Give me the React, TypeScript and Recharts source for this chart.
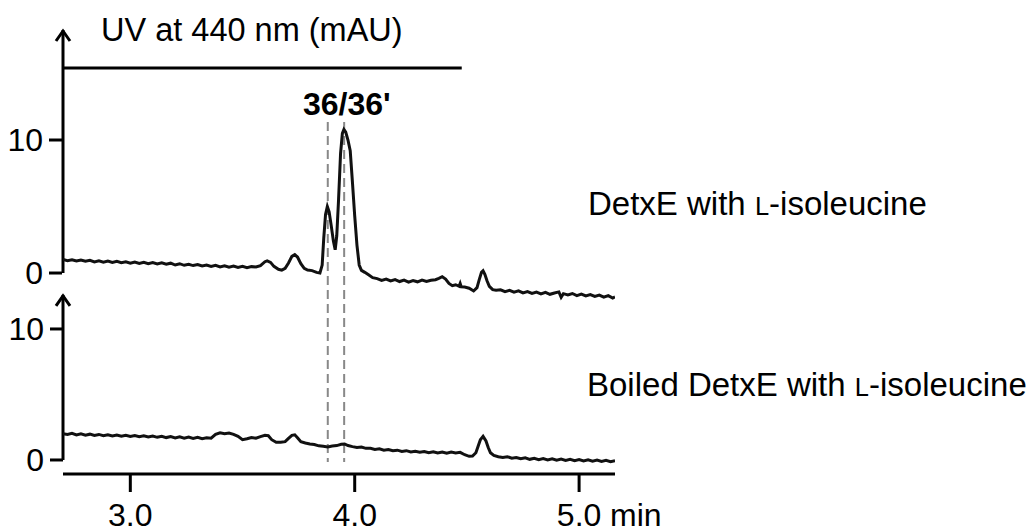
import React from "react"
import { Line, LineChart, ReferenceLine, XAxis, YAxis } from "recharts"

// retention time (min) and absorbance (mAU)
const detxeTimes = [
    2.70, 2.72, 2.74, 2.76, 2.78, 2.80, 2.82, 2.84, 2.86, 2.88, 2.90, 2.92, 2.94, 2.96, 2.98,
    3.00, 3.02, 3.04, 3.06, 3.08, 3.10, 3.12, 3.14, 3.16, 3.18, 3.20, 3.22, 3.24, 3.26, 3.28,
    3.30, 3.32, 3.34, 3.36, 3.38, 3.40, 3.42, 3.44, 3.46, 3.48, 3.50, 3.52, 3.54, 3.56, 3.58,
    3.60, 3.61, 3.625, 3.64, 3.66, 3.675, 3.69, 3.705, 3.72, 3.733, 3.745, 3.76, 3.775, 3.79, 3.81,
    3.83, 3.845, 3.855, 3.862, 3.87, 3.878, 3.886, 3.895, 3.905, 3.913, 3.92, 3.928, 3.937, 3.945, 3.952,
    3.96, 3.97, 3.98, 3.99, 4.0, 4.01, 4.02, 4.03, 4.045, 4.06, 4.08, 4.10, 4.12, 4.14, 4.16,
    4.18, 4.20, 4.22, 4.24, 4.26, 4.28, 4.30, 4.32, 4.34, 4.36, 4.375, 4.39, 4.405, 4.42, 4.435,
    4.45, 4.465, 4.47, 4.475, 4.49, 4.51, 4.53, 4.545, 4.555, 4.565, 4.572, 4.58, 4.59, 4.60, 4.615,
    4.63, 4.65, 4.67, 4.69, 4.71, 4.73, 4.75, 4.77, 4.79, 4.81, 4.83, 4.85, 4.87, 4.89, 4.91,
    4.92, 4.93, 4.95, 4.97, 4.99, 5.01, 5.03, 5.05, 5.07, 5.09, 5.11, 5.13, 5.15, 5.16,
]
const detxeValues = [
    1.02, 0.93, 1.0, 0.9, 0.98, 0.88, 0.95, 0.84, 0.92, 0.82, 0.9, 0.8, 0.88, 0.78, 0.85,
    0.74, 0.83, 0.72, 0.8, 0.7, 0.78, 0.68, 0.76, 0.66, 0.74, 0.6, 0.7, 0.58, 0.66, 0.56,
    0.64, 0.53, 0.6, 0.5, 0.58, 0.46, 0.55, 0.44, 0.52, 0.42, 0.5, 0.4, 0.48, 0.45, 0.55,
    0.85, 0.92, 0.8, 0.5, 0.28, 0.22, 0.35, 0.75, 1.25, 1.38, 1.2, 0.7, 0.35, 0.22, 0.18,
    0.05, 0.0, 0.6, 2.6, 4.4, 5.0, 4.6, 3.6, 2.4, 1.75, 2.8, 5.5, 9.0, 10.5, 10.8,
    10.6, 10.0, 9.2, 6.8, 4.3, 2.1, 0.6, 0.2, 0.05, -0.12, -0.35, -0.42, -0.55, -0.46, -0.6,
    -0.5, -0.64, -0.53, -0.68, -0.56, -0.66, -0.53, -0.64, -0.55, -0.5, -0.4, -0.28, -0.45, -0.78, -0.95,
    -0.88, -1.0, -0.78, -1.04, -1.05, -1.14, -1.35, -1.1, -0.5, 0.05, 0.17, -0.1, -0.6, -1.0, -1.25,
    -1.3, -1.26, -1.4, -1.3, -1.44, -1.34, -1.5, -1.4, -1.54, -1.44, -1.57, -1.46, -1.6, -1.5, -1.42,
    -1.82, -1.55, -1.64, -1.54, -1.7, -1.58, -1.72, -1.62, -1.76, -1.66, -1.82, -1.7, -1.88, -1.8,
]

const boiledTimes = [
    2.70, 2.72, 2.74, 2.76, 2.78, 2.80, 2.82, 2.84, 2.86, 2.88, 2.90, 2.92, 2.94, 2.96, 2.98,
    3.00, 3.02, 3.04, 3.06, 3.08, 3.10, 3.12, 3.14, 3.16, 3.18, 3.20, 3.22, 3.24, 3.26, 3.28,
    3.30, 3.32, 3.34, 3.36, 3.38, 3.40, 3.42, 3.44, 3.46, 3.48, 3.50, 3.52, 3.54, 3.56, 3.58,
    3.60, 3.615, 3.63, 3.65, 3.67, 3.69, 3.705, 3.72, 3.733, 3.745, 3.76, 3.78, 3.80, 3.82, 3.84,
    3.86, 3.88, 3.90, 3.92, 3.94, 3.955, 3.97, 3.99, 4.01, 4.03, 4.05, 4.07, 4.09, 4.11, 4.13,
    4.15, 4.17, 4.19, 4.21, 4.23, 4.25, 4.27, 4.29, 4.31, 4.33, 4.35, 4.37, 4.39, 4.41, 4.43,
    4.45, 4.47, 4.49, 4.51, 4.525, 4.54, 4.55, 4.56, 4.572, 4.585, 4.595, 4.605, 4.62, 4.64, 4.66,
    4.68, 4.70, 4.72, 4.74, 4.76, 4.78, 4.80, 4.82, 4.84, 4.86, 4.88, 4.90, 4.92, 4.94, 4.96,
    4.98, 5.00, 5.02, 5.04, 5.06, 5.08, 5.10, 5.12, 5.14, 5.16,
]
const boiledValues = [
    2.0, 1.94, 2.03, 1.91, 1.99, 1.89, 1.97, 1.87, 1.95, 1.85, 1.93, 1.83, 1.91, 1.81, 1.89,
    1.79, 1.87, 1.77, 1.85, 1.75, 1.83, 1.73, 1.81, 1.71, 1.79, 1.69, 1.77, 1.67, 1.75, 1.65,
    1.73, 1.63, 1.69, 1.66, 1.95, 2.08, 2.0, 2.06, 1.95, 1.8, 1.55, 1.62, 1.72, 1.66, 1.78,
    1.88, 1.85, 1.55, 1.35, 1.36, 1.4, 1.65, 1.88, 1.92, 1.7, 1.4, 1.3, 1.22, 1.18, 1.08,
    1.04, 1.0, 1.06, 1.1, 1.2, 1.22, 1.1, 1.02, 0.96, 0.99, 0.89, 0.89, 0.81, 0.85, 0.75,
    0.79, 0.71, 0.75, 0.65, 0.71, 0.61, 0.67, 0.59, 0.65, 0.55, 0.63, 0.53, 0.61, 0.51, 0.61,
    0.54, 0.58, 0.4, 0.28, 0.3, 0.55, 1.05, 1.55, 1.8, 1.45, 0.95, 0.55, 0.35, 0.25, 0.2,
    0.25, 0.13, 0.19, 0.09, 0.16, 0.05, 0.13, 0.03, 0.11, 0.01, 0.09, -0.01, 0.07, -0.03, 0.05,
    -0.05, 0.03, -0.07, 0.01, -0.09, -0.01, -0.11, -0.03, -0.13, -0.06,
]

const xTicks = [3, 4, 5]
const yTicks = [0, 10]
const peakMarks = [3.88, 3.953]

const detxeData = detxeTimes.map((t, i) => ({ t, v: detxeValues[i] }))
const boiledData = boiledTimes.map((t, i) => ({ t, v: boiledValues[i] }))

const FONT = "'Liberation Sans', Arial, Helvetica, sans-serif"

const ArrowAxis = (props: any) => {
    const { x1, y1, x2, y2 } = props
    const top = Math.min(y1, y2)
    const x = x1
    return (
        <g>
            <line x1={x1} y1={y1} x2={x2} y2={y2} stroke="#000" strokeWidth={3} />
            <polyline
                points={`${x - 7},${top + 11} ${x},${top + 1} ${x + 7},${top + 11}`}
                fill="none"
                stroke="#000"
                strokeWidth={3}
            />
        </g>
    )
}

const TimeTick = (props: any) => {
    const { x, y, payload } = props
    const label = payload.value.toFixed(1)
    return (
        <g>
            <text x={x} y={y} dy="0.71em" textAnchor="middle" fill="#000" fontSize={32} fontFamily={FONT}>
                {label}
            </text>
            {payload.value === 5 && (
                <text x={x + 31} y={y} dy="0.71em" textAnchor="start" fill="#000" fontSize={32} fontFamily={FONT}>
                    min
                </text>
            )}
        </g>
    )
}

export default function App() {
    return (
        <div style={{ position: "absolute", left: 0, top: 0, width: 1028, height: 532, background: "#fff" }}>
            <LineChart width={1028} height={532} margin={{ top: 30, right: 413, bottom: 0, left: 61 }}>
                <XAxis
                    type="number"
                    dataKey="t"
                    domain={[2.7, 5.16]}
                    allowDataOverflow
                    ticks={xTicks}
                    height={58}
                    tickSize={18}
                    tickMargin={11}
                    axisLine={{ stroke: "#000", strokeWidth: 3 }}
                    tickLine={{ stroke: "#000", strokeWidth: 3 }}
                    tick={<TimeTick />}
                />
                <YAxis
                    yAxisId="top"
                    type="number"
                    domain={[-15.11, 18.27]}
                    allowDataOverflow
                    ticks={yTicks}
                    width={1}
                    axisLine={false}
                    tickSize={13}
                    tickMargin={6}
                    tickLine={{ stroke: "#000", strokeWidth: 3 }}
                    tick={{ fill: "#000", fontSize: 32, fontFamily: FONT }}
                />
                <YAxis
                    yAxisId="bottom"
                    type="number"
                    domain={[-1.07, 32.82]}
                    allowDataOverflow
                    ticks={yTicks}
                    width={1}
                    axisLine={false}
                    tickSize={13}
                    tickMargin={6}
                    tickLine={{ stroke: "#000", strokeWidth: 3 }}
                    tick={{ fill: "#000", fontSize: 32, fontFamily: FONT }}
                />

                {peakMarks.map((t) => (
                    <ReferenceLine
                        key={t}
                        yAxisId="top"
                        ifOverflow="visible"
                        segment={[{ x: t, y: 11.35 }, { x: t, y: -14.2 }]}
                        stroke="#888"
                        strokeWidth={2}
                        strokeDasharray="9 5"
                    />
                ))}

                <ReferenceLine
                    yAxisId="top"
                    ifOverflow="visible"
                    segment={[{ x: 2.7, y: 0 }, { x: 2.7, y: 18.27 }]}
                    shape={<ArrowAxis />}
                />
                <ReferenceLine
                    yAxisId="top"
                    ifOverflow="visible"
                    segment={[{ x: 2.7, y: 15.41 }, { x: 4.477, y: 15.41 }]}
                    stroke="#000"
                    strokeWidth={3}
                />
                <ReferenceLine
                    yAxisId="bottom"
                    ifOverflow="visible"
                    segment={[{ x: 2.7, y: 0 }, { x: 2.7, y: 12.6 }]}
                    shape={<ArrowAxis />}
                />

                <Line
                    yAxisId="top"
                    data={detxeData}
                    dataKey="v"
                    type="linear"
                    stroke="#111"
                    strokeWidth={3}
                    dot={false}
                    activeDot={false}
                    isAnimationActive={false}
                />
                <Line
                    yAxisId="bottom"
                    data={boiledData}
                    dataKey="v"
                    type="linear"
                    stroke="#111"
                    strokeWidth={3}
                    dot={false}
                    activeDot={false}
                    isAnimationActive={false}
                />
            </LineChart>

            <svg
                width={1028}
                height={532}
                style={{ position: "absolute", left: 0, top: 0, pointerEvents: "none" }}
                fontFamily={FONT}
                fill="#000"
            >
                <text x={101} y={41} fontSize={32.5}>UV at 440 nm (mAU)</text>
                <text x={303} y={115} fontSize={32} fontWeight="bold">36/36'</text>
                <text x={588} y={215} fontSize={33}>
                    DetxE with <tspan fontSize={25.5}>L</tspan>-isoleucine
                </text>
                <text x={587} y={396} fontSize={33}>
                    Boiled DetxE with <tspan fontSize={25.5}>L</tspan>-isoleucine
                </text>
            </svg>
        </div>
    )
}
